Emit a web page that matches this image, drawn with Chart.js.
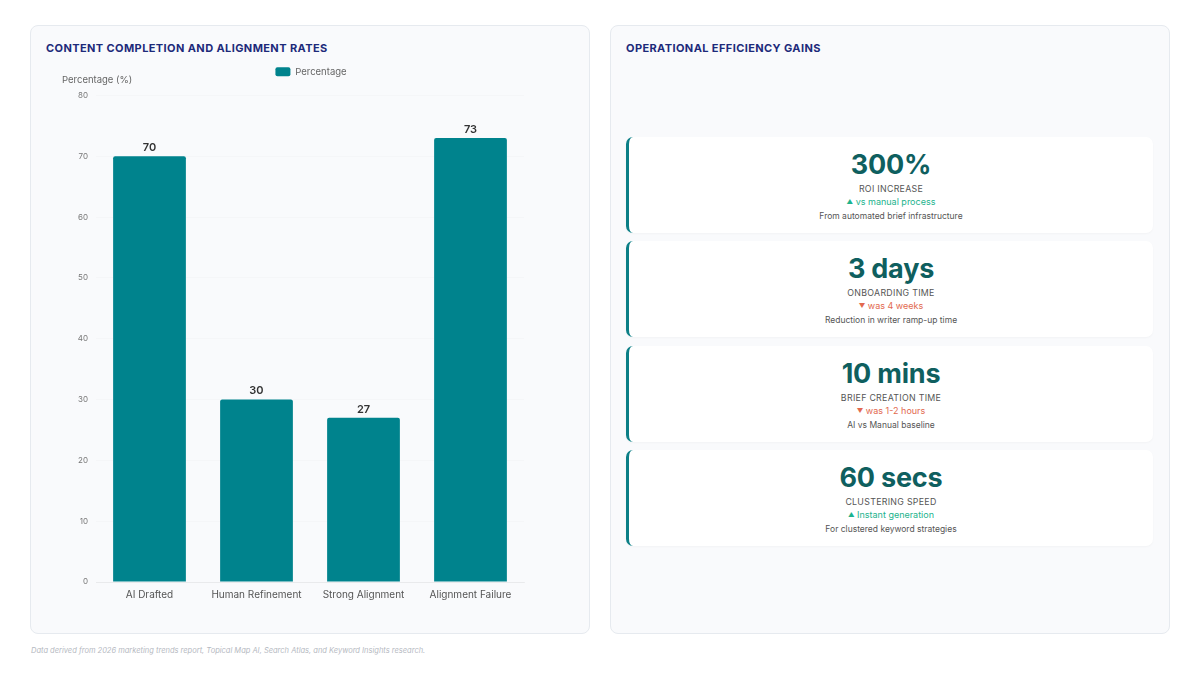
<!DOCTYPE html>
<html>
<head>
<meta charset="utf-8">
<script src="https://cdn.jsdelivr.net/npm/chart.js@4"></script>
<style>
  html, body { margin: 0; padding: 0; background: #ffffff; }
  body { width: 1200px; height: 675px; position: relative; font-family: Inter, "Noto Sans", sans-serif; overflow: hidden; }
  .panel { position: absolute; top: 25px; width: 560px; height: 609px; background: #f9fafc; border: 1px solid #e6eaef; border-radius: 8px; box-sizing: border-box; }
  .panel h2 { position: absolute; left: 15px; top: 15px; margin: 0; font-size: 11px; font-weight: 700; letter-spacing: 0.4px; color: #1d2a7a; }
  #left { left: 30px; }
  #right { left: 610px; }
  #chartBox { position: absolute; left: 15px; top: 31px; width: 530px; height: 557px; }
  #yTitle { position: absolute; left: 31px; top: 48px; font-size: 9.5px; color: #666; }
  .card { position: absolute; left: 15px; width: 527px; height: 96px; background: #ffffff; border-left: 3px solid #0b7f86; border-radius: 7px; box-sizing: border-box; text-align: center; box-shadow: 0 1px 2px rgba(0,0,0,0.03); }
  .card .val { margin-top: 11px; font-size: 27px; font-weight: 700; color: #0f5f5f; line-height: 34px; letter-spacing: -0.2px; }
  .card .lab { margin-top: 1px; font-size: 8.8px; color: #555; letter-spacing: 0.3px; line-height: 12px; }
  .card .chg { margin-top: 0; font-size: 9px; line-height: 13px; }
  .card .chg .tri { font-size: 6.5px; vertical-align: 1px; }
  .card .chg.up { color: #1cb38d; }
  .card .chg.down { color: #e2694f; }
  .card .desc { margin-top: 1px; font-size: 8.5px; color: #555; line-height: 13px; }
  #foot { position: absolute; left: 31px; top: 646px; font-size: 7.5px; font-style: italic; color: #b5b9bf; }
</style>
</head>
<body>
<div class="panel" id="left">
  <h2>CONTENT COMPLETION AND ALIGNMENT RATES</h2>
  <div id="chartBox"><canvas id="barChart"></canvas></div>
  <div id="yTitle">Percentage (%)</div>
</div>
<div class="panel" id="right">
  <h2>OPERATIONAL EFFICIENCY GAINS</h2>
  <div id="cards"></div>
</div>
<div id="foot">Data derived from 2026 marketing trends report, Topical Map AI, Search Atlas, and Keyword Insights research.</div>

<script>
var CATEGORIES = ['AI Drafted', 'Human Refinement', 'Strong Alignment', 'Alignment Failure'];
var PERCENTAGES = [70, 30, 27, 73];
var Y_TICKS = [0, 10, 20, 30, 40, 50, 60, 70, 80];

var METRIC_VALUES = ['300%', '3 days', '10 mins', '60 secs'];
var METRIC_LABELS = ['ROI INCREASE', 'ONBOARDING TIME', 'BRIEF CREATION TIME', 'CLUSTERING SPEED'];
var METRIC_CHANGES = ['vs manual process', 'was 4 weeks', 'was 1-2 hours', 'Instant generation'];
var METRIC_UP = [true, false, false, true];
var METRIC_NOTES = ['From automated brief infrastructure', 'Reduction in writer ramp-up time', 'AI vs Manual baseline', 'For clustered keyword strategies'];

// cards on the right
var cardsEl = document.getElementById('cards');
var cardTops = [111, 215, 320, 424];
for (var i = 0; i < METRIC_VALUES.length; i++) {
  var c = document.createElement('div');
  c.className = 'card';
  c.style.top = cardTops[i] + 'px';
  c.innerHTML =
    '<div class="val">' + METRIC_VALUES[i] + '</div>' +
    '<div class="lab">' + METRIC_LABELS[i] + '</div>' +
    '<div class="chg ' + (METRIC_UP[i] ? 'up' : 'down') + '"><span class="tri">' + (METRIC_UP[i] ? '\u25B2' : '\u25BC') + '</span> ' + METRIC_CHANGES[i] + '</div>' +
    '<div class="desc">' + METRIC_NOTES[i] + '</div>';
  cardsEl.appendChild(c);
}

// value labels above bars
var valueLabels = {
  id: 'valueLabels',
  afterDatasetsDraw: function (chart) {
    var ctx = chart.ctx;
    var meta = chart.getDatasetMeta(0);
    ctx.save();
    ctx.font = '600 11px Inter, sans-serif';
    ctx.fillStyle = '#333';
    ctx.textAlign = 'center';
    ctx.textBaseline = 'bottom';
    meta.data.forEach(function (bar, idx) {
      ctx.fillText(String(PERCENTAGES[idx]), bar.x, bar.y - 3);
    });
    ctx.restore();
  }
};

// a little more room under the legend
var legendGap = {
  id: 'legendGap',
  beforeInit: function (chart) {
    var origFit = chart.legend.fit;
    chart.legend.fit = function () {
      origFit.bind(chart.legend)();
      this.height += 9;
    };
  }
};

new Chart(document.getElementById('barChart'), {
  type: 'bar',
  data: {
    labels: CATEGORIES,
    datasets: [{
      label: 'Percentage',
      data: PERCENTAGES,
      backgroundColor: '#00838d',
      borderRadius: 2,
      borderSkipped: 'bottom',
      barPercentage: 0.85,
      categoryPercentage: 0.8
    }]
  },
  options: {
    responsive: true,
    maintainAspectRatio: false,
    animation: false,
    layout: { padding: { left: 10, right: 10, top: 0, bottom: 14 } },
    plugins: {
      legend: {
        display: true,
        labels: {
          boxWidth: 15, boxHeight: 9, useBorderRadius: true, borderRadius: 2,
          color: '#666', font: { size: 9.5, family: 'Inter' }, padding: 10
        }
      },
      tooltip: { enabled: false }
    },
    scales: {
      x: {
        grid: { display: false },
        border: { color: 'rgba(0,0,0,0.05)' },
        ticks: { color: '#555', font: { size: 10, family: 'Inter', lineHeight: 1 }, padding: 0, maxRotation: 0 }
      },
      y: {
        min: 0, max: 80,
        afterBuildTicks: function (axis) { axis.ticks = Y_TICKS.map(function (v) { return { value: v }; }); },
        afterFit: function (axis) { axis.width = 40; },
        grid: { color: 'rgba(0,0,0,0.015)', drawTicks: false },
        border: { display: false },
        ticks: { color: '#777', font: { size: 8, family: 'Inter' }, padding: 8 }
      },
      y2: {
        position: 'right',
        min: 0, max: 80,
        afterFit: function (axis) { axis.width = 42; },
        grid: { display: false },
        border: { display: false },
        ticks: { display: false }
      }
    }
  },
  plugins: [valueLabels, legendGap]
});
</script>
</body>
</html>
